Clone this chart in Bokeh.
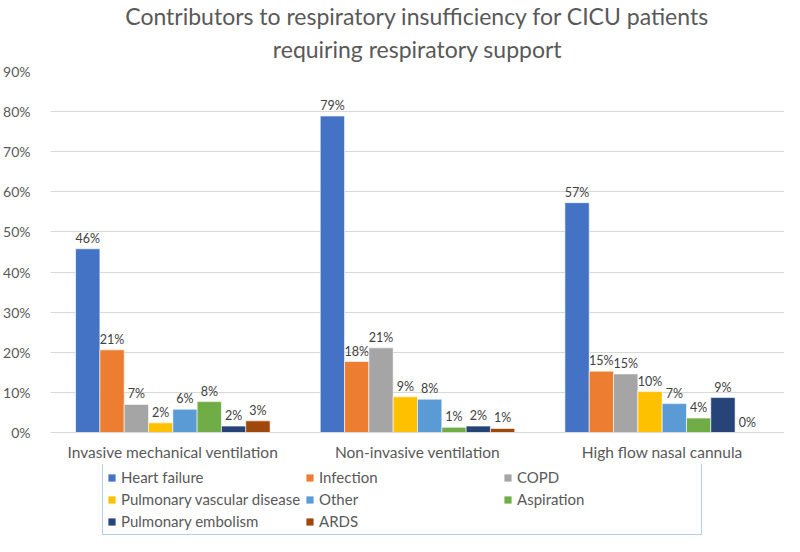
from bokeh.plotting import figure
from bokeh.models import (FactorRange, ColumnDataSource, FixedTicker, NumeralTickFormatter,
                          Title, Legend, LegendItem, Range1d)
from bokeh.layouts import column
from bokeh.transform import dodge
from bokeh.core.properties import value
from bokeh.embed import file_html
from bokeh.resources import INLINE

categories = ["Invasive mechanical ventilation", "Non-invasive ventilation", "High flow nasal cannula"]
series_names = ["Heart failure", "Infection", "COPD", "Pulmonary vascular disease",
                "Other", "Aspiration", "Pulmonary embolism", "ARDS"]
heart_failure = [0.458, 0.789, 0.573]
infection = [0.206, 0.177, 0.153]
copd = [0.070, 0.211, 0.146]
pulmonary_vascular = [0.024, 0.089, 0.102]
other = [0.058, 0.083, 0.072]
aspiration = [0.077, 0.013, 0.036]
pulmonary_embolism = [0.016, 0.016, 0.087]
ards = [0.029, 0.010, 0.0]
series_values = [heart_failure, infection, copd, pulmonary_vascular, other,
                 aspiration, pulmonary_embolism, ards]
colors = ["#4472C4", "#ED7D31", "#A5A5A5", "#FFC000", "#5B9BD5", "#70AD47", "#264478", "#9E480E"]
y_ticks = [0.0, 0.1, 0.2, 0.3, 0.4, 0.5, 0.6, 0.7, 0.8, 0.9]
title_line1 = "Contributors to respiratory insufficiency for CICU patients"
title_line2 = "requiring respiratory support"

FONT = "Lato"
TXT = "#595959"

p = figure(width=784, height=464, x_range=FactorRange(*categories, range_padding=0),
           y_range=Range1d(0, 0.9), output_backend="svg", toolbar_location=None,
           title=None, min_border_left=43, min_border_right=0, min_border_top=71,
           min_border_bottom=32)
p.outline_line_color = None
p.background_fill_color = "white"

p.add_layout(Title(text=title_line2, align="center", text_font=FONT, text_font_size="23px",
                   text_font_style="normal", text_color=TXT, standoff=18), "above")
p.add_layout(Title(text=title_line1, align="center", text_font=FONT, text_font_size="23px",
                   text_font_style="normal", text_color=TXT, standoff=-12), "above")

n = len(series_names)
group_w = 0.795
bar_w = group_w / n
for i, (name, vals, col) in enumerate(zip(series_names, series_values, colors)):
    off = -group_w / 2 + bar_w * (i + 0.5)
    labels = [f"{int(v * 100 + 0.5)}%" for v in vals]
    src = ColumnDataSource(dict(cat=categories, val=vals, lab=labels))
    p.vbar(x=dodge("cat", off, range=p.x_range), top="val", width=bar_w, source=src,
           fill_color=col, line_color="white", line_width=0.6)
    p.text(x=dodge("cat", off, range=p.x_range), y="val", text="lab", source=src,
           text_font=value(FONT), text_font_size="12.5px", text_color="#404040",
           text_align="center", text_baseline="bottom", y_offset=-3)

# axes
p.yaxis.ticker = FixedTicker(ticks=y_ticks)
p.yaxis.formatter = NumeralTickFormatter(format="0%")
p.yaxis.axis_line_color = None
p.yaxis.major_tick_line_color = None
p.yaxis.minor_tick_line_color = None
p.yaxis.major_label_text_font = FONT
p.yaxis.major_label_text_font_size = "14px"
p.yaxis.major_label_text_color = TXT
p.yaxis.major_label_standoff = 14

p.xaxis.axis_line_color = "#d9d9d9"
p.xaxis.major_tick_line_color = None
p.xaxis.minor_tick_line_color = None
p.xaxis.major_label_text_font = FONT
p.xaxis.major_label_text_font_size = "15.5px"
p.xaxis.major_label_text_color = TXT
p.xaxis.major_label_standoff = 4

p.xgrid.grid_line_color = None
p.ygrid.grid_line_color = "#d9d9d9"
p.ygrid.ticker = FixedTicker(ticks=y_ticks)

# legend holder: a separate canvas below the chart so that the legend is not clipped.
# Its bars use the same data but lie below its visible y range; only the legend shows.
lg = figure(width=784, height=72, x_range=FactorRange(*categories, range_padding=0),
            y_range=Range1d(2, 3), output_backend="svg", toolbar_location=None, title=None,
            x_axis_location=None, y_axis_location=None,
            min_border_left=0, min_border_right=0, min_border_top=0, min_border_bottom=0)
lg.outline_line_color = None
lg.xgrid.grid_line_color = None
lg.ygrid.grid_line_color = None
items = []
for i, (name, vals, col) in enumerate(zip(series_names, series_values, colors)):
    off = -group_w / 2 + bar_w * (i + 0.5)
    src = ColumnDataSource(dict(cat=categories, val=vals))
    r = lg.vbar(x=dodge("cat", off, range=lg.x_range), top="val", width=bar_w, source=src,
                fill_color=col, line_color=None)
    items.append(LegendItem(label=name, renderers=[r]))

legend = Legend(items=items, orientation="horizontal", ncols=3, location=(52, 1),
                margin=0, padding=4, spacing=4, glyph_width=9, glyph_height=9,
                label_width=180, label_height=16, label_standoff=5,
                label_text_font=FONT, label_text_font_size="15px", label_text_color=TXT,
                border_line_color="#6f9fd8", border_line_width=1,
                background_fill_color="white", background_fill_alpha=1)
lg.add_layout(legend, "center")

layout = column(p, lg, spacing=0)
open("out.html", "w").write(file_html(layout, INLINE))
